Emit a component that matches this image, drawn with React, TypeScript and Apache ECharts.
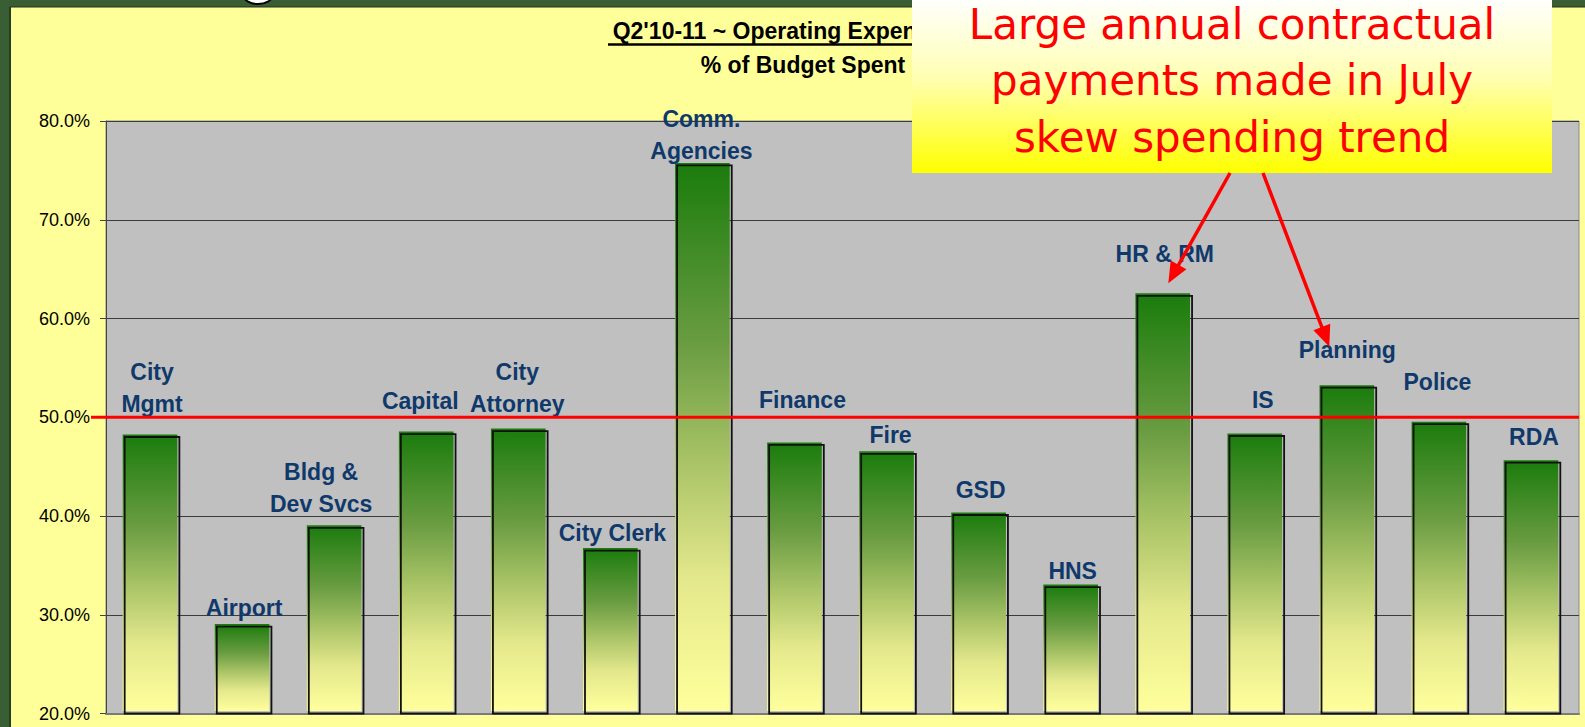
import React, { useEffect, useRef } from 'react';
import * as echarts from 'echarts';

// ---------- data ----------
const categories = [
  'City\nMgmt', 'Airport', 'Bldg &\nDev Svcs', 'Capital', 'City\nAttorney', 'City Clerk',
  'Comm.\nAgencies', 'Finance', 'Fire', 'GSD', 'HNS', 'HR & RM', 'IS', 'Planning', 'Police', 'RDA',
];
const pctSpent = [48.0, 28.8, 38.8, 48.3, 48.6, 36.5, 75.5, 47.2, 46.3, 40.1, 32.8, 62.3, 48.1, 53.0, 49.3, 45.4];
const yMin = 20;
const yMax = 80;
const yStep = 10;
const targetPct = 50;
const titleLines = ["Q2'10-11 ~ Operating Expenditures", '% of Budget Spent'];
const calloutLines = ['Large annual contractual', 'payments made in July', 'skew spending trend'];

// label placement tweaks (pixels above / beside each bar)
const labelLift = [24.6, 10.7, 15.8, 25, 19, 10, 6.7, 37, 10.7, 16.7, 8, 33.3, 28.4, 29.4, 34.4, 17.7];
const labelShift = [0, 0, -15, -8, -3, 0, -3, 6, 2, 0, 0, 0, 6, -1.5, -3.5, 1];

const W = 1585;
const H = 727;
const LABEL_FONT = 'Arial, "Liberation Sans", Helvetica, sans-serif';

const barFill = {
  type: 'linear', x: 0, y: 0, x2: 0, y2: 1,
  colorStops: [
    { offset: 0, color: '#1a7c0c' },
    { offset: 0.33, color: '#6a9c42' },
    { offset: 0.55, color: '#aac467' },
    { offset: 0.76, color: '#e4e88c' },
    { offset: 1, color: '#ffff9c' },
  ],
};

function arrow(x1: number, y1: number, tx: number, ty: number, id: string) {
  const dx = tx - x1;
  const dy = ty - y1;
  const len = Math.sqrt(dx * dx + dy * dy);
  const ux = dx / len;
  const uy = dy / len;
  const hl = 21;
  const hw = 9;
  const bx = tx - ux * hl;
  const by = ty - uy * hl;
  const px = -uy;
  const py = ux;
  return [
    {
      type: 'line', id: id + 'l', z: 40,
      shape: { x1, y1, x2: bx + ux * 2, y2: by + uy * 2 },
      style: { stroke: '#ff0000', lineWidth: 3.5 },
    },
    {
      type: 'polygon', id: id + 'h', z: 40,
      shape: { points: [[tx, ty], [bx + px * hw, by + py * hw], [bx - px * hw, by - py * hw]] },
      style: { fill: '#ff0000' },
    },
  ];
}

function buildGraphics(y50: number) {
  const g: any[] = [];
  // outer slide frame
  g.push({ type: 'rect', id: 'frL', z: 1, shape: { x: 0, y: 0, width: 11, height: H }, style: { fill: '#3a5e33' } });
  g.push({ type: 'rect', id: 'frT', z: 1, shape: { x: 0, y: 0, width: W, height: 7 }, style: { fill: '#3a5e33' } });
  g.push({ type: 'line', id: 'frLL', z: 1, shape: { x1: 10, y1: 7, x2: 10, y2: H }, style: { stroke: '#1f3320', lineWidth: 1.5 } });
  g.push({ type: 'line', id: 'frTL', z: 1, shape: { x1: 10, y1: 7, x2: W, y2: 7 }, style: { stroke: '#1f3320', lineWidth: 1 } });
  g.push({ type: 'ellipse', id: 'gTail', z: 1, shape: { cx: 258, cy: -4, rx: 14, ry: 8 }, style: { fill: '#ffffff', stroke: '#000', lineWidth: 2 } });

  // chart title
  g.push({
    type: 'text', id: 't1', z: 10, x: 803, y: 30.5,
    style: {
      text: titleLines[0], fill: '#000', fontSize: 23, fontWeight: 'bold', fontFamily: LABEL_FONT,
      align: 'center', verticalAlign: 'middle', textAlign: 'center', textVerticalAlign: 'middle',
    },
  });
  g.push({ type: 'line', id: 'tU', z: 10, shape: { x1: 608, y1: 44.5, x2: 998, y2: 44.5 }, style: { stroke: '#000', lineWidth: 2.5 } });
  g.push({
    type: 'text', id: 't2', z: 10, x: 803, y: 64.5,
    style: {
      text: titleLines[1], fill: '#000', fontSize: 23, fontWeight: 'bold', fontFamily: LABEL_FONT,
      align: 'center', verticalAlign: 'middle', textAlign: 'center', textVerticalAlign: 'middle',
    },
  });

  // 50% target line
  g.push({
    type: 'line', id: 'target', z: 20,
    shape: { x1: 91, y1: y50, x2: W - 6, y2: y50 },
    style: { stroke: '#ff0000', lineWidth: 3 },
  });

  // callout box
  g.push({
    type: 'rect', id: 'cBox', z: 30,
    shape: { x: 912, y: -2, width: 640, height: 175 },
    style: {
      fill: {
        type: 'linear', x: 0, y: 0, x2: 0, y2: 1,
        colorStops: [
          { offset: 0, color: '#ffffff' },
          { offset: 0.45, color: '#ffffb4' },
          { offset: 1, color: '#ffff00' },
        ],
      },
    },
  });
  const lineYs = [24, 80.5, 137];
  calloutLines.forEach((t, i) => {
    g.push({
      type: 'text', id: 'c' + i, z: 31, x: 1232, y: lineYs[i],
      style: {
        text: t, fill: '#ff0000', fontSize: 42, fontFamily: '"DejaVu Sans", Verdana, sans-serif',
        align: 'center', verticalAlign: 'middle', textAlign: 'center', textVerticalAlign: 'middle',
      },
    });
  });
  g.push(...arrow(1230, 173, 1168.3, 283.3, 'a1'));
  g.push(...arrow(1263, 173, 1329.3, 346.7, 'a2'));
  return g;
}

export default function App() {
  const ref = useRef<HTMLDivElement>(null);

  useEffect(() => {
    document.body.style.margin = '0';
    document.body.style.overflow = 'hidden';
    const chart = echarts.init(ref.current as HTMLDivElement, null, { renderer: 'svg' });

    const option: any = {
      animation: false,
      backgroundColor: '#ffff99',
      grid: {
        left: 106, right: 6, top: 121, bottom: 13.5,
        show: true, backgroundColor: '#c0c0c0', borderColor: '#8a8a8a', borderWidth: 1,
      },
      xAxis: {
        type: 'category',
        data: categories,
        boundaryGap: true,
        axisLabel: { show: false },
        axisTick: { show: false },
        axisLine: { show: true, lineStyle: { color: '#7a7a7a', width: 2 } },
        splitLine: { show: false },
      },
      yAxis: {
        type: 'value',
        min: yMin,
        max: yMax,
        interval: yStep,
        axisLine: { show: true, lineStyle: { color: '#444', width: 1 } },
        axisTick: { show: true, length: 6, lineStyle: { color: '#444' } },
        axisLabel: {
          margin: 16,
          color: '#000',
          fontSize: 18,
          fontFamily: LABEL_FONT,
          formatter: (v: number) => v.toFixed(1) + '%',
        },
        splitLine: { show: true, lineStyle: { color: '#3c3c3c', width: 1 } },
      },
      series: [
        {
          type: 'custom',
          z: 5,
          clip: false,
          encode: { x: 0, y: 1 },
          data: pctSpent.map((v, i) => [i, v]),
          renderItem: (params: any, api: any) => {
            const idx = api.value(0);
            const val = api.value(1);
            const top = api.coord([idx, val]);
            const base = api.coord([idx, yMin]);
            const bw = api.size([1, 0])[0] * 0.594;
            const x0 = top[0] - bw / 2;
            const h = base[1] - top[1];
            return {
              type: 'group',
              children: [
                {
                  type: 'rect',
                  shape: { x: x0 - 2, y: top[1] - 2.5, width: bw, height: h },
                  style: { fill: barFill },
                },
                {
                  type: 'rect',
                  shape: { x: x0, y: top[1], width: bw, height: h },
                  style: { fill: 'none', stroke: '#111', lineWidth: 1.8 },
                },
                {
                  type: 'text',
                  x: top[0] + labelShift[idx],
                  y: top[1] - labelLift[idx] + 8,
                  style: {
                    text: categories[idx],
                    fill: '#10396b',
                    fontSize: 23,
                    fontWeight: 'bold',
                    fontFamily: LABEL_FONT,
                    lineHeight: 32,
                    align: 'center',
                    verticalAlign: 'bottom',
                    textAlign: 'center',
                    textVerticalAlign: 'bottom',
                  },
                },
              ],
            };
          },
        },
      ],
    };

    chart.setOption(option);
    const y50 = chart.convertToPixel({ yAxisIndex: 0 }, targetPct) as number;
    chart.setOption({ graphic: buildGraphics(y50) });

    return () => chart.dispose();
  }, []);

  return <div ref={ref} style={{ width: W, height: H }} />;
}
